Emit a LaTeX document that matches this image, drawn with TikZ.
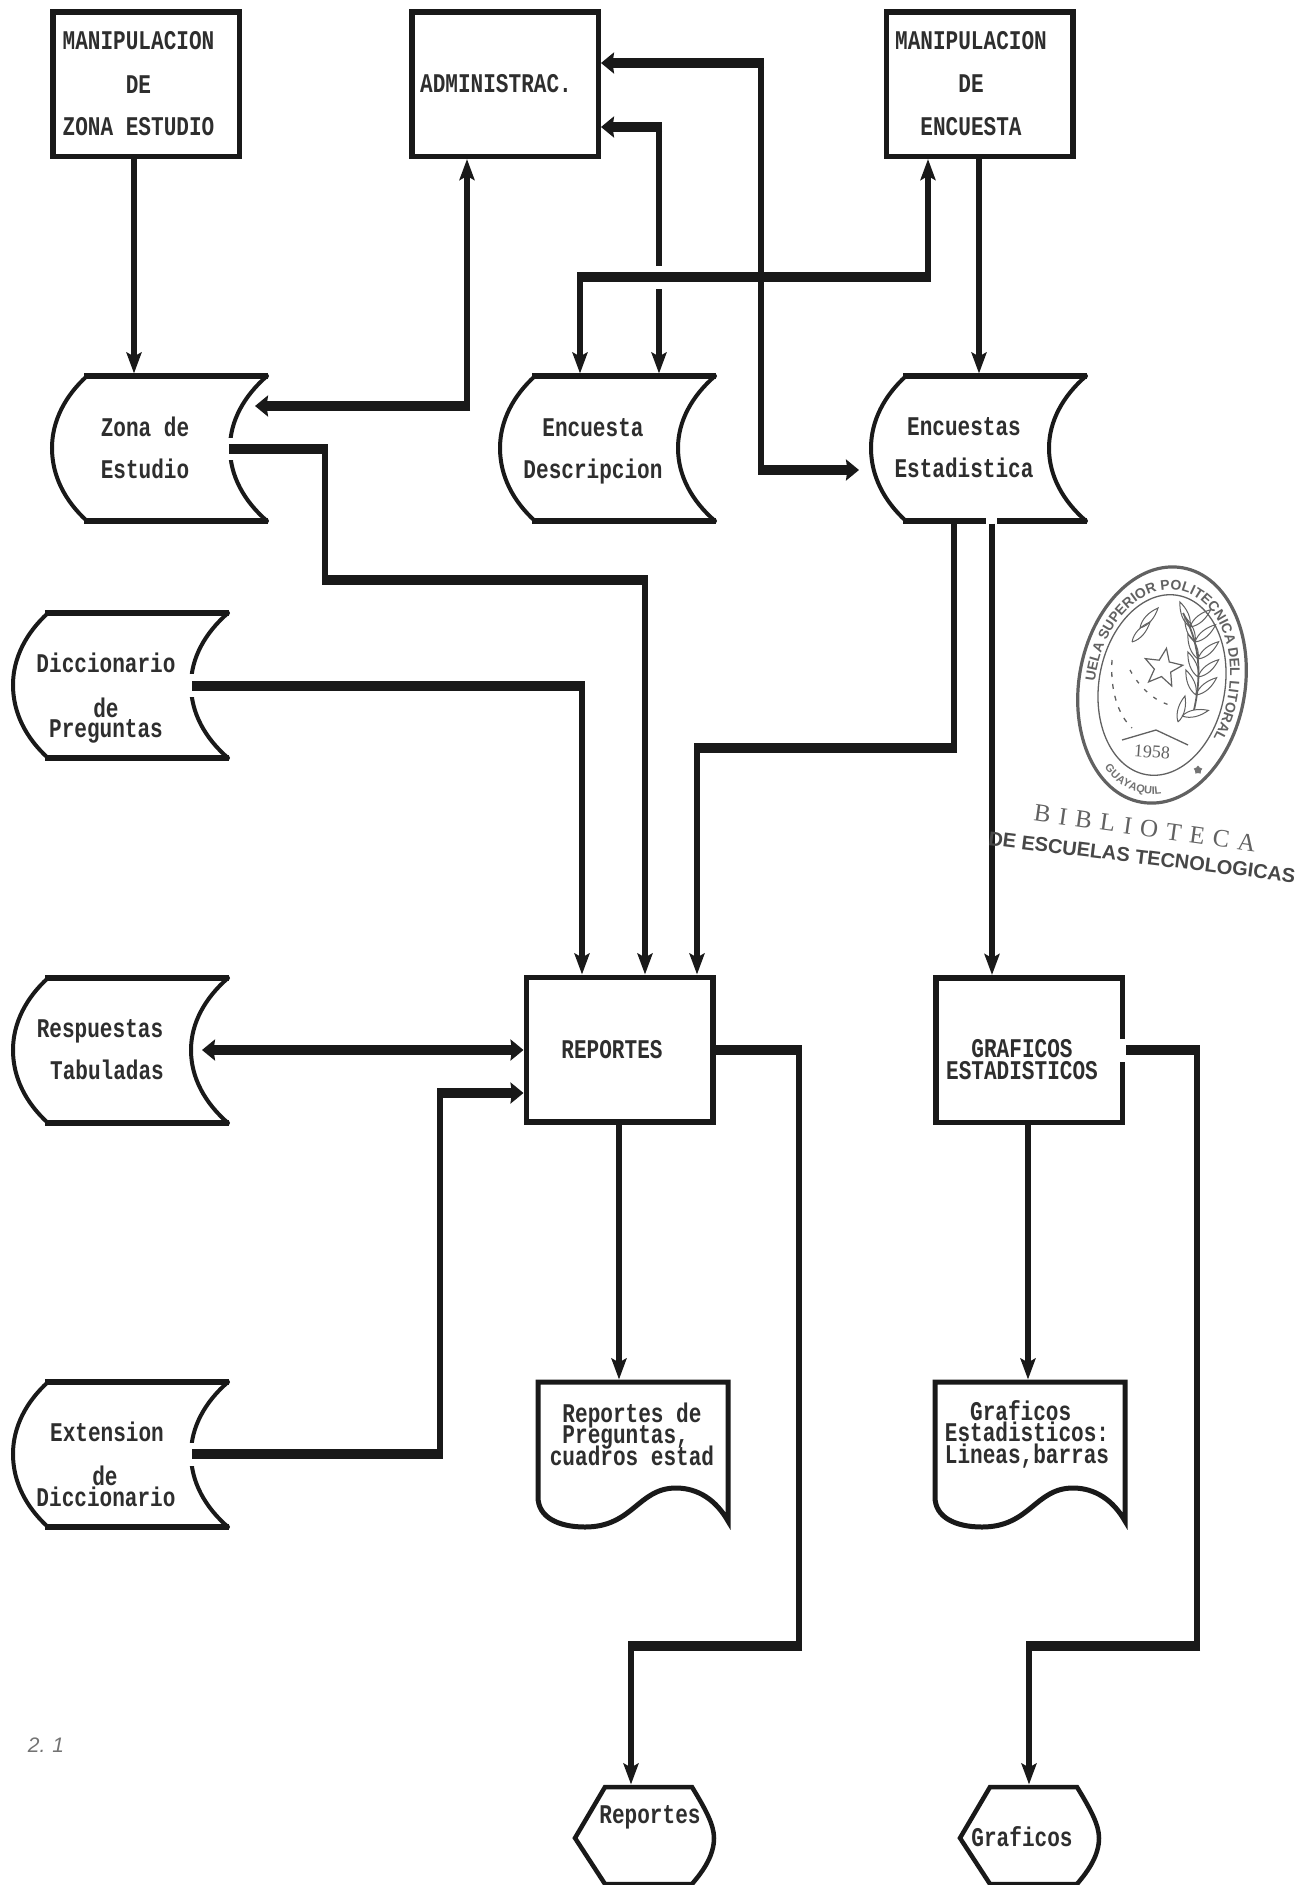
\documentclass[tikz,border=0pt]{standalone}
\usepackage{fontspec}
\usetikzlibrary{arrows.meta,decorations.text,shapes.geometric,calc}
\newfontfamily\dotfont[FakeStretch=0.78]{Liberation Mono Bold}
\newfontfamily\stampfont{Liberation Sans Bold}
\newfontfamily\plainfont{Liberation Sans}
\newfontfamily\stampserif{Liberation Serif}
\newcommand\tightlines{\lineskiplimit=-100pt\relax\lineskip=0pt\relax}
\tikzset{
  ink/.style={color=black!90},
  flat/.style={ink,line width=5.5pt,line join=miter,line cap=rect},
  curved/.style={ink,line width=4pt,line cap=round},
  boxn/.style={draw=black!90,line width=5.5pt,inner sep=0pt,outer sep=2.75pt,minimum width=186.5pt,minimum height=144.5pt},
  slot/.style={inner sep=0pt,outer sep=0pt},
  lbl/.style={inner sep=0pt,outer sep=0pt,anchor=base,align=center,text=black!82,font=\dotfont\fontsize{27}{21.5}\selectfont},
  lbll/.style={inner sep=0pt,outer sep=0pt,align=left,text=black!82,font=\dotfont\fontsize{27}{21.5}\selectfont\tightlines},
  vseg/.style={ink,line width=6pt},
  hseg/.style={ink,line width=10pt,shorten <=-3pt,shorten >=-3pt},
  vtip/.style={-{Stealth[length=21pt,width=15pt,inset=4pt]}},
  htip/.style={-{Stealth[length=13pt,width=21pt,inset=1.5pt]},shorten >=0pt},
  seal/.style={color=black!62,line width=1.3pt},
  storage/.pic={
    \draw[curved] (35,0) .. controls (13,20) and (0,45) .. (0,72) .. controls (0,100) and (13,125) .. (35,145);
    \draw[curved] (215,145) .. controls (192,125) and (178,100) .. (178,72) .. controls (178,45) and (192,20) .. (215,0);
    \draw[flat] (35,0) -- (213,0);
    \draw[flat] (35,145) -- (213,145);
  },
  docshape/.pic={
    \draw[ink,line width=5pt,line join=miter] (0,0) -- (190,0) -- (190,139) .. controls (178,118) and (160,106) .. (138,106) .. controls (100,106) and (95,145) .. (47,145) .. controls (20,145) and (0,135) .. (0,115) -- cycle;
  },
  displayshape/.pic={
    \draw[ink,line width=4.5pt,line join=miter] (30,0) -- (117,0) .. controls (131,23) and (139,38) .. (139,51) .. controls (139,68) and (129,83) .. (117,97) -- (30,97) -- (0,51) -- cycle;
  },
  leafa/.pic={\draw[seal,line width=1pt] (0,0) .. controls (8,-5) and (18,-4) .. (27,0) .. controls (18,4) and (8,5) .. (0,0);},
}
\begin{document}
\begin{tikzpicture}[x=1pt,y=-1pt]
\useasboundingbox (0,0) rectangle (1306,1885);

% boxes
\node[boxn] (mze) at (146,84) {};
\node[boxn] (adm) at (505,84) {};
\node[boxn] (mde) at (979.5,84) {};
\node[boxn] (rep) at (619.5,1049.5) {};
\node[boxn] (gra) at (1029,1050) {};

% storage shapes
\pic at (52,376) {storage};
\node[slot,minimum width=215pt,minimum height=150pt] (zona) at (159.5,448.5) {};
\pic at (500,376) {storage};
\node[slot,minimum width=215pt,minimum height=150pt] (edes) at (607.5,448.5) {};
\pic at (871,376) {storage};
\node[slot,minimum width=215pt,minimum height=150pt] (eest) at (978.5,448.5) {};
\pic at (13,613) {storage};
\node[slot,minimum width=215pt,minimum height=150pt] (dicc) at (120.5,685.5) {};
\pic at (13,978) {storage};
\node[slot,minimum width=215pt,minimum height=150pt] (resp) at (120.5,1050.5) {};
\pic at (13,1382) {storage};
\node[slot,minimum width=215pt,minimum height=150pt] (exte) at (120.5,1454.5) {};

% documents and displays
\pic at (538,1382) {docshape};
\node[slot,minimum width=190pt,minimum height=150pt] (docr) at (633,1454.5) {};
\pic at (935,1382) {docshape};
\node[slot,minimum width=190pt,minimum height=150pt] (docg) at (1030,1454.5) {};
\pic at (575,1787) {displayshape};
\node[slot,minimum width=139pt,minimum height=102pt] (disr) at (644.5,1835.5) {};
\pic at (960,1787) {displayshape};
\node[slot,minimum width=139pt,minimum height=102pt] (disg) at (1029.5,1835.5) {};

% white gaps where a connector leaves a shape
\fill[white] (222,438) rectangle (236,460);
\fill[white] (186,674) rectangle (200,697);
\fill[white] (186,1443) rectangle (200,1466);
\fill[white] (986,515) rectangle (997,527);
\fill[white] (1115,1039) rectangle (1131,1062);

% labels
\node[lbl] (t1a) at (138.5,49) {MANIPULACION};
\node[lbl] (t1b) at (138.5,93) {DE};
\node[lbl] (t1c) at (138.5,135) {ZONA ESTUDIO};
\node[lbl] (t2) at (496,92) {ADMINISTRAC.};
\node[lbl] (t3a) at (971,49) {MANIPULACION};
\node[lbl] (t3b) at (971,92) {DE};
\node[lbl] (t3c) at (971,135) {ENCUESTA};
\node[lbl] (t4a) at (145,436) {Zona de};
\node[lbl] (t4b) at (145,478) {Estudio};
\node[lbl] (t5a) at (593,436) {Encuesta};
\node[lbl] (t5b) at (593,478) {Descripcion};
\node[lbl] (t6a) at (964,435) {Encuestas};
\node[lbl] (t6b) at (964,477) {Estadistica};
\node[lbl] (t7a) at (106,672) {Diccionario};
\node[lbl] (t7b) at (106,717) {de};
\node[lbl] (t7c) at (106,737) {Preguntas};
\node[lbl] (t8a) at (100,1037) {Respuestas};
\node[lbl] (t8b) at (107,1079) {Tabuladas};
\node[lbl] (t9a) at (107,1441) {Extension};
\node[lbl] (t9b) at (105,1485) {de};
\node[lbl] (t9c) at (106,1506) {Diccionario};
\node[lbl] (t10) at (612,1058) {REPORTES};
\node[lbl] (t11a) at (1022,1057) {GRAFICOS};
\node[lbl] (t11b) at (1022,1079) {ESTADISTICOS};
\node[lbll] (t12) at (632,1434) {~Reportes de\\~Preguntas,\\cuadros estad};
\node[lbll] (t13) at (1027,1434) {~~Graficos\\Estadisticos:\\Lineas,barras};
\node[lbl] (t14) at (650,1823) {Reportes};
\node[lbl] (t15) at (1022,1846) {Graficos};
\node[inner sep=0pt,text=black!55,font=\plainfont\itshape\fontsize{21}{21}\selectfont] (t16) at (46,1745) {2.\,\,1};

% bend coordinates
\coordinate (a1) at (134,0);
\coordinate (a2) at (467,406);
\coordinate (a3) at (255,406);
\coordinate (b1) at (232,449);
\coordinate (b2) at (325,449);
\coordinate (b3) at (325,580);
\coordinate (b4) at (645,580);
\coordinate (c1) at (928,277);
\coordinate (c2) at (580,277);
\coordinate (d1) at (761,63);
\coordinate (d2) at (761,470);
\coordinate (d3) at (859,470);
\coordinate (e1) at (659,127);
\coordinate (e2) at (659,266);
\coordinate (e3) at (659,289);
\coordinate (f1) at (979,0);
\coordinate (g1) at (954,0);
\coordinate (g2) at (954,748);
\coordinate (g3) at (697,748);
\coordinate (h1) at (992,0);
\coordinate (i1) at (195,686);
\coordinate (i2) at (582,686);
\coordinate (j1) at (195,1454);
\coordinate (j2) at (440,1454);
\coordinate (j3) at (440,1093);
\coordinate (o1) at (202,1050);
\coordinate (o2) at (350,1050);
\coordinate (k1) at (619,0);
\coordinate (l1) at (1028,0);
\coordinate (m1) at (799,1050);
\coordinate (m2) at (799,1646);
\coordinate (m3) at (631,1646);
\coordinate (n0) at (1129,1050);
\coordinate (n1) at (1197,1050);
\coordinate (n2) at (1197,1646);
\coordinate (n3) at (1029,1646);

% connectors
\draw[vseg,vtip] (a1 |- mze.south) -- (a1 |- zona.north);
\draw[vseg,vtip] (a2) -- (a2 |- adm.south);
\draw[hseg,htip] (a2) -- (a3);
\draw[hseg] (b1) -- (b2);
\draw[vseg] (b2) -- (b3);
\draw[hseg] (b3) -- (b4);
\draw[vseg,vtip] (b4) -- (b4 |- rep.north);
\draw[vseg,vtip] (c1) -- (c1 |- mde.south);
\draw[vseg,vtip] (c2) -- (c2 |- edes.north);
\draw[vseg] (d1) -- (d2);
\draw[hseg,htip] (d1) -- (d1 -| adm.east);
\draw[hseg,htip] (d2) -- (d3);
\draw[vseg] (e1) -- (e2);
\draw[hseg,htip] (e1) -- (e1 -| adm.east);
\draw[vseg,vtip] (e3) -- (e3 |- edes.north);
\draw[hseg] (c1) -- (c2);
\draw[vseg,vtip] (f1 |- mde.south) -- (f1 |- eest.north);
\draw[vseg] (g1 |- eest.south) -- (g2);
\draw[hseg] (g2) -- (g3);
\draw[vseg,vtip] (g3) -- (g3 |- rep.north);
\draw[vseg,vtip] (h1 |- eest.south) -- (h1 |- gra.north);
\draw[hseg] (i1) -- (i2);
\draw[vseg,vtip] (i2) -- (i2 |- rep.north);
\draw[hseg,htip] (o2) -- (o1);
\draw[hseg,htip] (o2) -- (o2 -| rep.west);
\draw[hseg] (j1) -- (j2);
\draw[vseg] (j2) -- (j3);
\draw[hseg,htip] (j3) -- (j3 -| rep.west);
\draw[vseg,vtip] (k1 |- rep.south) -- (k1 |- docr.north);
\draw[vseg,vtip] (l1 |- gra.south) -- (l1 |- docg.north);
\draw[hseg] (m1 -| rep.east) -- (m1);
\draw[vseg] (m1) -- (m2);
\draw[hseg] (m2) -- (m3);
\draw[vseg,vtip] (m3) -- (m3 |- disr.north);
\draw[hseg] (n0) -- (n1);
\draw[vseg] (n1) -- (n2);
\draw[hseg] (n2) -- (n3);
\draw[vseg,vtip] (n3) -- (n3 |- disg.north);

% library stamp
\begin{scope}[shift={(1162,685)},y=1pt,rotate=-10]
  \draw[seal,line width=3.2pt] (0,0) ellipse [x radius=83,y radius=119];
  \draw[seal] (0,0) ellipse [x radius=63,y radius=91];
  \path[decorate,decoration={text along path,text align=center,text={|\stampfont\fontsize{14}{14}\selectfont\color{black!62}|UELA SUPERIOR POLITECNICA DEL LITORAL}}]
    (0,0) ++(195:67 and 96) arc [start angle=195,end angle=-38,x radius=67,y radius=96];
  \path[decorate,decoration={text along path,text align=center,text={|\stampfont\fontsize{11}{11}\selectfont\color{black!55}|GUAYAQUIL}}]
    (0,0) ++(222:76 and 110) arc [start angle=222,end angle=300,x radius=76,y radius=110];
\end{scope}
\node[star,star points=5,star point ratio=2.3,draw=black!62,line width=1.2pt,minimum size=40pt,inner sep=0pt,rotate=-10] (sstar) at (1163,668) {};
\node[star,star points=5,fill=black!55,minimum size=9pt,inner sep=0pt] (sdot) at (1198,770) {};
\draw[seal,line width=1.8pt] (1194,710) .. controls (1203,670) and (1198,640) .. (1183,613);
\foreach \px/\py in {1196/695,1198/677,1198/659,1195/642,1190/627}{
  \pic[rotate=40] at (\px,\py) {leafa};
  \pic[rotate=112] at (\px,\py) {leafa};
}
\pic[rotate=12] at (1182,716) {leafa};
\pic[rotate=75] at (1178,722) {leafa};
\foreach \px/\py in {1132/642,1140/628}{
  \pic[rotate=48] at (\px,\py) {leafa};
}
\draw[seal,dash pattern=on 5pt off 7pt] (1112,660) .. controls (1110,690) and (1118,715) .. (1132,728);
\draw[seal,dash pattern=on 4pt off 8pt] (1130,670) .. controls (1135,680) and (1150,700) .. (1170,705);
\draw[seal] (1122,740) -- (1156,730) -- (1188,745);
\node[inner sep=0pt,text=black!62,font=\stampserif\fontsize{18}{18}\selectfont,rotate=-4] (syear) at (1152,752) {1958};
\node[inner sep=0pt,text=black!62,font=\stampserif\fontsize{25}{25}\selectfont,rotate=-8] (sbib) at (1145,828) {B\,\,I\,\,B\,\,L\,\,I\,\,O\,\,T\,\,E\,\,C\,\,A};
\node[inner sep=0pt,text=black!72,font=\stampfont\fontsize{20}{20}\selectfont,rotate=-7] (sesc) at (1142,857) {DE ESCUELAS TECNOLOGICAS};
\end{tikzpicture}
\end{document}
